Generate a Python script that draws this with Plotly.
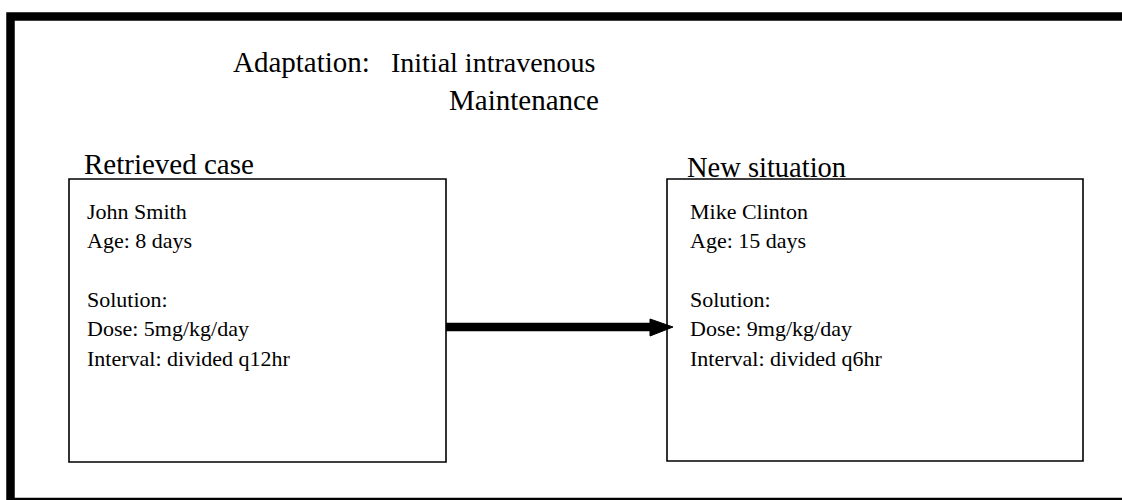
import plotly.graph_objects as go

# ---- data (texts) ----
header_label = "Adaptation:"
header_items = ["Initial intravenous", "Maintenance"]
box_titles = ["Retrieved case", "New situation"]
retrieved_lines = ["John Smith", "Age: 8 days", "", "Solution:", "Dose: 5mg/kg/day", "Interval: divided q12hr"]
new_lines = ["Mike Clinton", "Age: 15 days", "", "Solution:", "Dose: 9mg/kg/day", "Interval: divided q6hr"]

W, H = 1122, 500
FONT = "Liberation Serif"

fig = go.Figure()
fig.add_trace(go.Scatter(x=[0, W], y=[0, H], mode="markers", marker=dict(opacity=0), hoverinfo="skip", showlegend=False))

shapes = []
# outer frame (cut off at right and bottom)
shapes.append(dict(type="rect", xref="x", yref="y", x0=10.5, y0=16.5, x1=W + 40, y1=502,
                   line=dict(color="black", width=8.5), fillcolor="rgba(0,0,0,0)"))
# boxes
boxes = [(69, 179, 446, 462), (667, 179, 1083, 461)]
for (x0, y0, x1, y1) in boxes:
    shapes.append(dict(type="rect", xref="x", yref="y", x0=x0, y0=y0, x1=x1, y1=y1,
                       line=dict(color="black", width=1.6), fillcolor="rgba(0,0,0,0)"))
# arrow shaft
shapes.append(dict(type="line", xref="x", yref="y", x0=446, y0=327, x1=652, y1=327,
                   line=dict(color="black", width=8.5)))
# arrow head
shapes.append(dict(type="path", xref="x", yref="y", path="M 650 319 L 673 327 L 650 336 Z",
                   fillcolor="black", line=dict(color="black", width=1)))

annotations = []
def txt(x, y, s, size):
    annotations.append(dict(x=x, y=y, xref="x", yref="y", text=s, showarrow=False,
                            xanchor="left", yanchor="middle",
                            font=dict(family=FONT, size=size, color="black")))

txt(231, 62, header_label, 29)
txt(389, 62, header_items[0], 28)
txt(447, 100, header_items[1], 29)
txt(82, 164, box_titles[0], 29)
txt(685, 167, box_titles[1], 28.5)

spacing = 29.4
for i, s in enumerate(retrieved_lines):
    if s:
        txt(85, 211 + i * spacing, s, 22)
for i, s in enumerate(new_lines):
    if s:
        txt(688, 211 + i * spacing, s, 22)

fig.update_layout(
    width=W, height=H, margin=dict(l=0, r=0, t=0, b=0),
    paper_bgcolor="white", plot_bgcolor="white",
    xaxis=dict(range=[0, W], visible=False, fixedrange=True),
    yaxis=dict(range=[H, 0], visible=False, fixedrange=True),
    shapes=shapes, annotations=annotations, showlegend=False,
)
fig.write_html("out.html", config={"displayModeBar": False},
               post_script="document.body.style.margin='0';document.body.style.overflow='hidden';")
